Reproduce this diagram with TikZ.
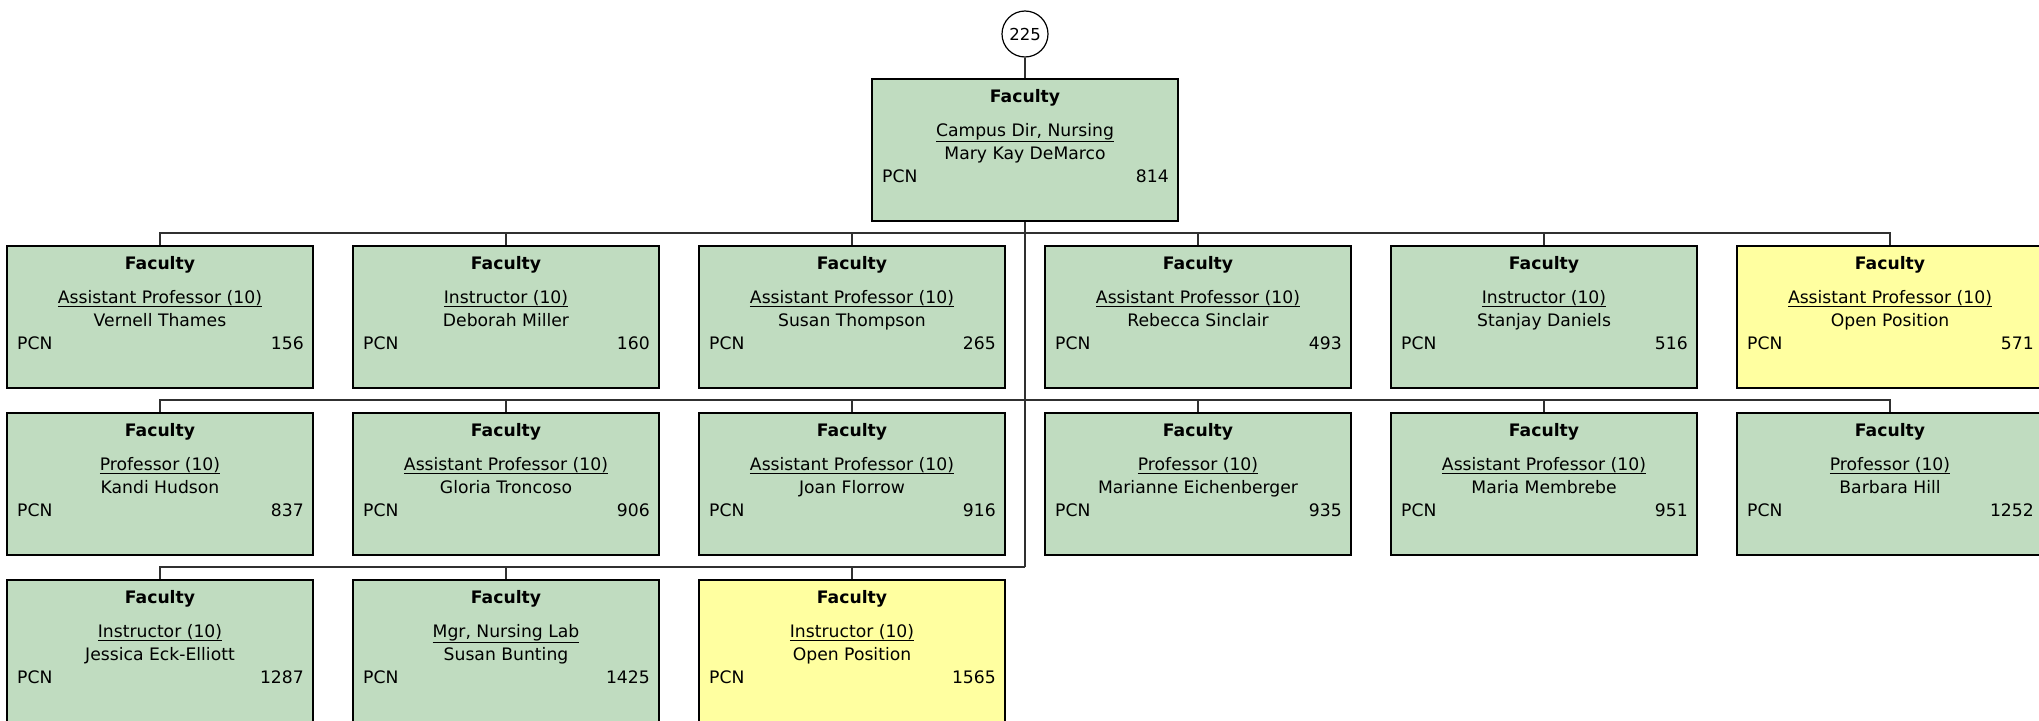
\documentclass[tikz,border=0pt]{standalone}
\usepackage{fontspec}
\setmainfont{DejaVu Sans}
\definecolor{boxgreen}{HTML}{C0DCC0}
\definecolor{boxyellow}{HTML}{FFFFA0}
\definecolor{connc}{HTML}{303030}
\tikzset{
  box/.style={draw=black, line width=2pt, minimum width=306pt, minimum height=142pt, inner sep=0pt},
  lbl/.style={inner sep=0pt, font=\fontsize{17.2}{20}\selectfont},
  conn/.style={draw=connc, line width=2pt},
  circ/.style={draw=black, line width=1.2pt, ellipse, minimum width=46pt, minimum height=46pt, inner sep=0pt, fill=white, font=\fontsize{16.5}{20}\selectfont}
}
\newcommand{\facbox}[7]{%
  \node[box, fill=#4] (#1) at ({#2},{#3+71}) {};
  \node[lbl, anchor=base, font=\fontsize{17.2}{20}\selectfont\bfseries] (#1f) at ({#2},{#3+23}) {Faculty};
  \node[lbl, anchor=base] (#1t) at ({#2},{#3+57}) {\underline{#5}};
  \node[lbl, anchor=base] (#1n) at ({#2},{#3+80}) {#6};
  \node[lbl, anchor=base west] (#1p) at ({#2-143},{#3+103}) {PCN};
  \node[lbl, anchor=base east] (#1c) at ({#2+144},{#3+103}) {#7};
}
\usetikzlibrary{shapes.geometric}
\begin{document}
\begin{tikzpicture}[x=1pt,y=-1pt]
\useasboundingbox (0,0) rectangle (2039,720);
\clip (0,0) rectangle (2039,720);
% top
\node[circ] (c225) at (1025,34) {225};
\facbox{top}{1025}{79}{boxgreen}{Campus Dir, Nursing}{Mary Kay DeMarco}{814}
% row 1
\facbox{b11}{160}{246}{boxgreen}{Assistant Professor (10)}{Vernell Thames}{156}
\facbox{b12}{506}{246}{boxgreen}{Instructor (10)}{Deborah Miller}{160}
\facbox{b13}{852}{246}{boxgreen}{Assistant Professor (10)}{Susan Thompson}{265}
\facbox{b14}{1198}{246}{boxgreen}{Assistant Professor (10)}{Rebecca Sinclair}{493}
\facbox{b15}{1544}{246}{boxgreen}{Instructor (10)}{Stanjay Daniels}{516}
\facbox{b16}{1890}{246}{boxyellow}{Assistant Professor (10)}{Open Position}{571}
% row 2
\facbox{b21}{160}{413}{boxgreen}{Professor (10)}{Kandi Hudson}{837}
\facbox{b22}{506}{413}{boxgreen}{Assistant Professor (10)}{Gloria Troncoso}{906}
\facbox{b23}{852}{413}{boxgreen}{Assistant Professor (10)}{Joan Florrow}{916}
\facbox{b24}{1198}{413}{boxgreen}{Professor (10)}{Marianne Eichenberger}{935}
\facbox{b25}{1544}{413}{boxgreen}{Assistant Professor (10)}{Maria Membrebe}{951}
\facbox{b26}{1890}{413}{boxgreen}{Professor (10)}{Barbara Hill}{1252}
% row 3
\facbox{b31}{160}{580}{boxgreen}{Instructor (10)}{Jessica Eck-Elliott}{1287}
\facbox{b32}{506}{580}{boxgreen}{Mgr, Nursing Lab}{Susan Bunting}{1425}
\facbox{b33}{852}{580}{boxyellow}{Instructor (10)}{Open Position}{1565}
% junctions
\coordinate (j1) at (1025,233);
\coordinate (j2) at (1025,400);
\coordinate (j3) at (1025,567);
% connectors
\draw[conn] (c225) -- (top);
\draw[conn] (top.south) -- (j3);
\draw[conn] (b11.north) |- (j1) -| (b16.north);
\foreach \b in {b12,b13,b14,b15} \draw[conn] (j1 -| \b.north) -- (\b.north);
\draw[conn] (b21.north) |- (j2) -| (b26.north);
\foreach \b in {b22,b23,b24,b25} \draw[conn] (j2 -| \b.north) -- (\b.north);
\draw[conn] (j3) -| (b31.north);
\foreach \b in {b32,b33} \draw[conn] (j3 -| \b.north) -- (\b.north);
\end{tikzpicture}
\end{document}
